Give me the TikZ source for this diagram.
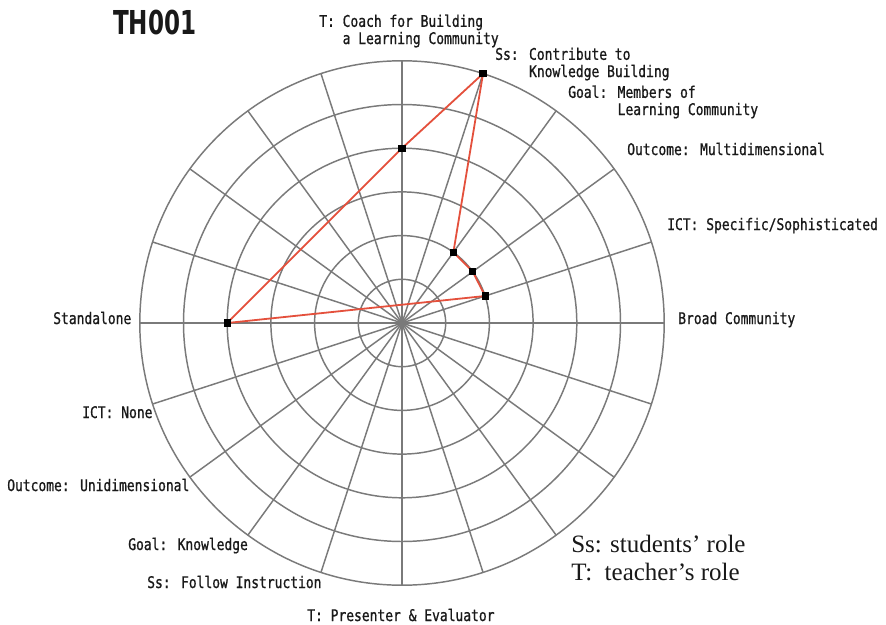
\documentclass[tikz,border=0pt]{standalone}
\usepackage{fontspec}
\setmainfont{Liberation Serif}
\newfontfamily\lblfont[FakeStretch=0.81,FakeBold=0.9]{DejaVu Sans Mono}
\newfontfamily\ttlfont[FakeStretch=0.70]{DejaVu Sans}
\definecolor{gridgray}{RGB}{122,122,122}
\definecolor{datared}{RGB}{228,80,60}
\definecolor{txt}{RGB}{25,25,25}
\begin{document}
\begin{tikzpicture}[x=0.75pt,y=0.75pt,
  gridline/.style={draw=gridgray, line width=1.1pt},
  dataline/.style={draw=datared, line width=1.35pt, line join=round},
  mk/.style={rectangle, fill=black, inner sep=0pt, minimum size=5.4pt},
  lbl/.style={font=\lblfont\fontsize{12}{12.9}\selectfont, inner sep=0pt, anchor=base west, align=left, text=txt},
  legend/.style={font=\fontsize{18.75}{21}\selectfont, inner sep=0pt, anchor=base west, align=left, text=txt},
  ttl/.style={font=\ttlfont\bfseries\fontsize{24.7}{26}\selectfont, inner sep=0pt, anchor=base west, text=txt}]
\useasboundingbox (0,0) rectangle (886,-625);
\fill[white] (0,0) rectangle (886,-625);
\coordinate (O) at (402,-323);
% grid
\foreach \k in {1,...,6} \draw[gridline] (O) circle ({43.7*\k});
\foreach \a in {0,18,...,342} \draw[gridline] (O) -- ++(\a:262.2);
% data
\path (O) ++(18:87.4) coordinate (p1);
\path (O) ++(36:87.4) coordinate (p2);
\path (O) ++(54:87.4) coordinate (p3);
\path (O) ++(72:262.2) coordinate (p4);
\path (O) ++(90:174.8) coordinate (p5);
\path (O) ++(180:174.8) coordinate (p6);
\draw[dataline] (p6) -- (p1) -- (p2) -- (p3) -- (p4) -- (p5) -- cycle;
\foreach \i in {1,...,6} \node[mk] (m\i) at (p\i) {};
% labels
\node[ttl] (title) at (113,-34) {TH001};
\node[lbl] (lTcoach) at (319,-44) {T: Coach for Building\\\hphantom{T: }a Learning Community};
\node[lbl] (lSscontr) at (495,-77) {Ss: Contribute to\\\hphantom{Ss: }Knowledge Building};
\node[lbl] (lGoalmem) at (568,-115) {Goal: Members of\\\hphantom{Goal: }Learning Community};
\node[lbl] (lOutmulti) at (627,-155) {Outcome: Multidimensional};
\node[lbl] (lICTspec) at (667,-230) {ICT: Specific/Sophisticated};
\node[lbl] (lBroad) at (678,-324) {Broad Community};
\node[lbl] (lStand) at (53,-324) {Standalone};
\node[lbl] (lICTnone) at (82,-418) {ICT: None};
\node[lbl] (lOutuni) at (7,-491) {Outcome: Unidimensional};
\node[lbl] (lGoalkn) at (128,-550) {Goal: Knowledge};
\node[lbl] (lSsfollow) at (147,-588) {Ss: Follow Instruction};
\node[lbl] (lTpres) at (307,-621) {T: Presenter \& Evaluator};
\node[legend] (legend) at (571,-580) {Ss: students’ role\\T:\ \ teacher’s role};
\end{tikzpicture}
\end{document}
